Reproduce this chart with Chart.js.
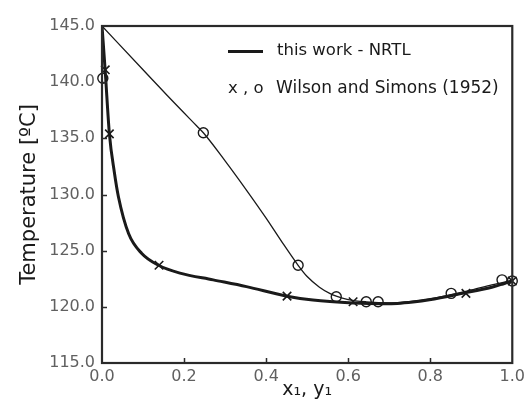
<!DOCTYPE html>
<html>
<head>
<meta charset="utf-8">
<script src="https://cdn.jsdelivr.net/npm/chart.js@4/dist/chart.umd.min.js"></script>
<style>
html,body{margin:0;padding:0;background:#fff;}
#wrap{width:529px;height:402px;}
</style>
</head>
<body>
<div id="wrap"><canvas id="c" width="529" height="402"></canvas></div>
<script>
// NRTL bubble curve (liquid, x1)
const bubbleX = [0, 0.008, 0.018, 0.03, 0.04, 0.065, 0.097, 0.138, 0.19, 0.271, 0.352, 0.451, 0.514, 0.612, 0.685, 0.72, 0.758, 0.798, 0.879, 0.95, 1.0];
const bubbleT = [145.0, 140.9, 135.4, 132.0, 129.8, 126.5, 124.75, 123.7, 123.0, 122.4, 121.8, 120.95, 120.6, 120.35, 120.28, 120.3, 120.42, 120.62, 121.2, 121.75, 122.3];
// NRTL dew curve (vapour, y1)
const dewX = [0, 0.1, 0.162, 0.231, 0.247, 0.3, 0.352, 0.4, 0.44, 0.478, 0.5, 0.53, 0.555, 0.571, 0.6, 0.644, 0.7, 0.75, 0.8, 0.9, 0.95, 1.0];
const dewT = [145.0, 141.1, 138.7, 136.1, 135.5, 133.0, 130.4, 127.9, 125.7, 123.7, 122.7, 121.75, 121.2, 120.95, 120.65, 120.45, 120.35, 120.47, 120.72, 121.5, 121.95, 122.35];
// Wilson and Simons (1952) experimental data
const expLiqX = [0.008, 0.018, 0.139, 0.451, 0.612, 0.887, 1.0];
const expLiqT = [141.1, 135.4, 123.7, 120.95, 120.45, 121.2, 122.3];
const expVapX = [0.002, 0.247, 0.478, 0.571, 0.644, 0.673, 0.851, 0.975, 1.0];
const expVapT = [140.35, 135.5, 123.7, 120.9, 120.45, 120.45, 121.2, 122.4, 122.3];

const xTicks = [0, 0.2, 0.4, 0.6, 0.8, 1.0];
const yTicks = [115, 120, 125, 130, 135, 140, 145];
const legendLabels = ['this work - NRTL', 'Wilson and Simons (1952)'];

const pts = (xs, ys) => xs.map((x, i) => ({x: x, y: ys[i]}));
const INK = '#1a1a1a';
const FONT = "'DejaVu Sans', sans-serif";

const framePlugin = {
  id: 'frame',
  afterDatasetsDraw(chart) {
    const {ctx, chartArea: a, scales} = chart;
    ctx.save();
    ctx.strokeStyle = '#2a2a2a';
    ctx.lineWidth = 1.5;
    ctx.beginPath();
    xTicks.forEach(v => {
      if (v <= 0 || v >= 1) return;
      const px = Math.round(scales.x.getPixelForValue(v)) + 0.5;
      ctx.moveTo(px, a.bottom); ctx.lineTo(px, a.bottom - 5);
    });
    yTicks.forEach(v => {
      if (v <= 115 || v >= 145) return;
      const py = Math.round(scales.y.getPixelForValue(v)) + 0.5;
      ctx.moveTo(a.left, py); ctx.lineTo(a.left + 5, py);
    });
    ctx.stroke();
    ctx.lineWidth = 2.2;
    ctx.strokeRect(a.left, a.top, a.right - a.left, a.bottom - a.top);
    // legend
    ctx.fillStyle = INK;
    ctx.strokeStyle = INK;
    ctx.lineWidth = 3;
    ctx.beginPath();
    ctx.moveTo(228, 51.5); ctx.lineTo(263, 51.5);
    ctx.stroke();
    ctx.font = '16.5px ' + FONT;
    ctx.textBaseline = 'middle';
    ctx.textAlign = 'left';
    ctx.fillText(legendLabels[0], 277, 51);
    ctx.fillText('x , o', 228, 89);
    ctx.font = '17px ' + FONT;
    ctx.fillText(legendLabels[1], 276, 89);
    ctx.restore();
  }
};

new Chart(document.getElementById('c'), {
  type: 'scatter',
  data: {
    datasets: [
      {data: pts(bubbleX, bubbleT), showLine: true, borderColor: INK, borderWidth: 3, pointRadius: 0, cubicInterpolationMode: 'monotone', fill: false},
      {data: pts(dewX, dewT), showLine: true, borderColor: INK, borderWidth: 1.3, pointRadius: 0, cubicInterpolationMode: 'monotone', fill: false},
      {data: pts(expLiqX, expLiqT), showLine: false, pointStyle: 'crossRot', pointRadius: 6, borderColor: INK, borderWidth: 1.6, backgroundColor: INK, clip: false},
      {data: pts(expVapX, expVapT), showLine: false, pointStyle: 'circle', pointRadius: 5, borderColor: INK, borderWidth: 1.4, backgroundColor: 'rgba(255,255,255,0)', clip: false}
    ]
  },
  options: {
    responsive: false,
    animation: false,
    devicePixelRatio: 1,
    layout: {padding: {left: 0, right: 16, top: 26, bottom: 0}},
    plugins: {legend: {display: false}, tooltip: {enabled: false}},
    scales: {
      x: {
        type: 'linear', min: 0, max: 1,
        afterFit(s) { s.height = 39; },
        afterBuildTicks(s) { s.ticks = xTicks.map(v => ({value: v})); },
        grid: {display: false, drawTicks: false},
        border: {display: false},
        ticks: {padding: 4, color: '#606060', font: {family: FONT, size: 16}, callback: v => Number(v).toFixed(1), maxRotation: 0},
        title: {display: true, text: 'x\u2081, y\u2081', color: INK, font: {family: FONT, size: 19}, padding: {top: 0, bottom: 1}}
      },
      y: {
        type: 'linear', min: 115, max: 145,
        afterFit(s) { s.width = 102; },
        afterBuildTicks(s) { s.ticks = yTicks.map(v => ({value: v})); },
        grid: {display: false, drawTicks: false},
        border: {display: false},
        ticks: {padding: 7, color: '#606060', font: {family: FONT, size: 16}, callback: v => Number(v).toFixed(1)},
        title: {display: true, text: 'Temperature [\u00baC]', color: INK, font: {family: FONT, size: 21}, padding: {top: 17, bottom: 0}}
      }
    }
  },
  plugins: [framePlugin]
});
</script>
</body>
</html>
